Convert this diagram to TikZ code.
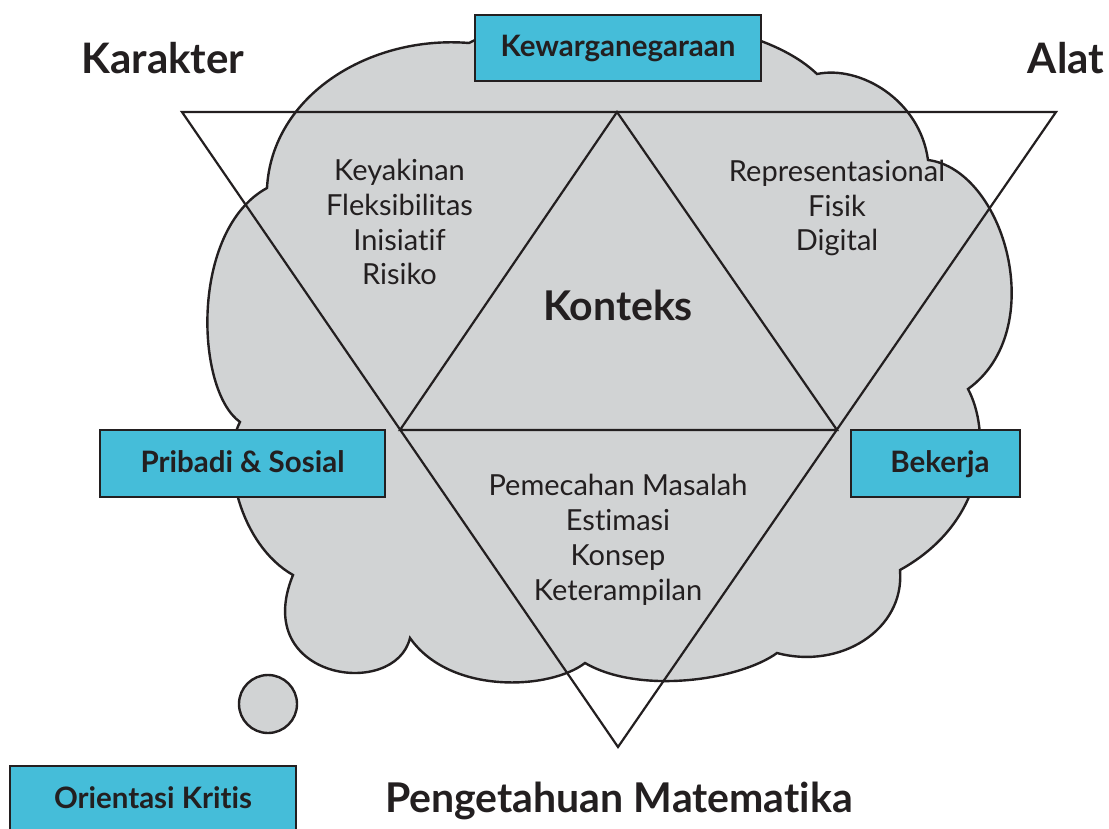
\documentclass[tikz,border=0pt]{standalone}
\usepackage{fontspec}
\setmainfont{Lato}[Ligatures=NoCommon]
\definecolor{cloudgray}{RGB}{209,211,212}
\definecolor{boxblue}{RGB}{69,189,217}
\definecolor{ink}{RGB}{35,31,32}
\begin{document}
\begin{tikzpicture}[x=1pt,y=-1pt,
  cloudshape/.style={fill=cloudgray, draw=ink, line width=2.4pt, line join=miter},
  triline/.style={draw=ink, line width=2.2pt, line join=miter},
  tagbox/.style={fill=boxblue, draw=ink, line width=2.6pt},
  lbl/.style={text=ink, inner sep=0pt, anchor=base},
  biglbl/.style={lbl, font=\fontsize{42}{46}\selectfont\bfseries},
  boxlbl/.style={lbl, font=\fontsize{29.5}{34}\selectfont\bfseries},
  listlbl/.style={text=ink, inner sep=0pt, anchor=base, align=center, font=\fontsize{29}{34.7}\selectfont}]
\useasboundingbox (0,0) rectangle (1109,829);
% cloud
\draw[cloudshape] (267,188) .. controls (272,95) and (370,35) .. (469,43)
 .. controls (540,5) and (745,5) .. (817,74)
 .. controls (860,65) and (920,100) .. (928,160)
 .. controls (1005,170) and (1050,330) .. (968,389)
 .. controls (990,430) and (990,520) .. (900,570)
 .. controls (905,630) and (840,670) .. (777,653)
 .. controls (740,680) and (640,695) .. (585,663)
 .. controls (550,690) and (450,695) .. (410,638)
 .. controls (395,700) and (250,680) .. (293,575)
 .. controls (240,545) and (220,460) .. (240,422)
 .. controls (195,390) and (190,230) .. (267,188) -- cycle;
\draw[cloudshape] (268,704) circle (29);
% triangles
\coordinate (dl) at (182,112);
\coordinate (dr) at (1056,112);
\coordinate (db) at (618,747);
\coordinate (ut) at (617,112);
\coordinate (ul) at (400,430);
\coordinate (ur) at (837,430);
\draw[triline] (dl) -- (dr) -- (db) -- cycle;
\draw[triline] (ut) -- (ur) -- (ul) -- cycle;
% boxes
\node[tagbox, minimum width=286, minimum height=66, inner sep=0pt] (kewbox) at (618,48) {};
\node[tagbox, minimum width=285, minimum height=67, inner sep=0pt] (pribox) at (242.5,463.5) {};
\node[tagbox, minimum width=169, minimum height=67, inner sep=0pt] (bekbox) at (935.5,463.5) {};
\node[tagbox, minimum width=286, minimum height=80, inner sep=0pt] (oribox) at (153,806) {};
% labels
\node[boxlbl] (kew) at (618,57) {Kewarganegaraan};
\node[boxlbl] (pri) at (242.5,472) {Pribadi \& Sosial};
\node[boxlbl] (bek) at (940,472) {Bekerja};
\node[boxlbl] (ori) at (153,808) {Orientasi Kritis};
\node[biglbl] (kar) at (163,74) {Karakter};
\node[biglbl] (alat) at (1066,74) {Alat};
\node[lbl, font=\fontsize{41}{46}\selectfont\bfseries] (peng) at (619,812) {Pengetahuan Matematika};
\node[lbl, font=\fontsize{41}{46}\selectfont\bfseries] (kon) at (618,320) {Konteks};
\node[listlbl] (char) at (399.5,285) {Keyakinan\\Fleksibilitas\\Inisiatif\\Risiko};
\node[listlbl] (tool) at (837,251) {Representasional\\Fisik\\Digital};
\node[listlbl] (math) at (618,600) {Pemecahan Masalah\\Estimasi\\Konsep\\Keterampilan};
\end{tikzpicture}
\end{document}
